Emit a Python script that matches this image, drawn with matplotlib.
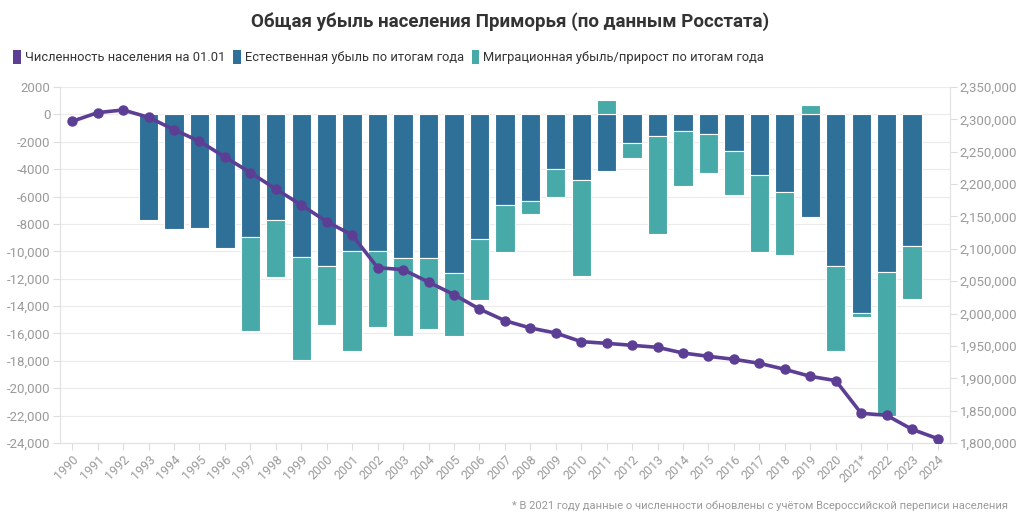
import matplotlib
matplotlib.use("Agg")
import matplotlib.pyplot as plt
from matplotlib.patches import Patch
from matplotlib.ticker import FuncFormatter, FixedLocator
import numpy as np

plt.rcParams['font.family'] = ['Roboto', 'DejaVu Sans']

years = ['1990', '1991', '1992', '1993', '1994', '1995', '1996', '1997', '1998', '1999',
         '2000', '2001', '2002', '2003', '2004', '2005', '2006', '2007', '2008', '2009',
         '2010', '2011', '2012', '2013', '2014', '2015', '2016', '2017', '2018', '2019',
         '2020', '2021*', '2022', '2023', '2024']

population = [2297000, 2310400, 2314500, 2303200, 2284100, 2266100, 2241900, 2217700,
              2192400, 2167700, 2142000, 2121300, 2070900, 2067800, 2048700, 2029200,
              2007000, 1989000, 1977700, 1969900, 1956600, 1954000, 1950900, 1947800,
              1939000, 1933900, 1929300, 1923100, 1913800, 1903000, 1896400, 1845900,
              1842800, 1821100, 1806800]

natural = [np.nan, np.nan, np.nan, -7750, -8370, -8300, -9760, -8960, -7690, -10420,
           -11070, -10000, -10000, -10470, -10490, -11590, -9080, -6620, -6300, -3970,
           -4800, -4110, -2100, -1560, -1220, -1460, -2680, -4450, -5650, -7500,
           -11050, -14480, -11540, -9610, np.nan]

migration = [np.nan, np.nan, np.nan, np.nan, np.nan, np.nan, np.nan, -6880, -4190, -7490,
             -4290, -7300, -5530, -5740, -5210, -4620, -4500, -3460, -950, -2050,
             -7030, 1070, -1110, -7150, -3990, -2830, -3190, -5600, -4630, 680,
             -6230, -340, -10510, -3870, np.nan]

c_pop = '#5c3f95'
c_nat = '#2f7099'
c_mig = '#48aaa8'
grey = '#9a9a9a'

fig = plt.figure(figsize=(10.2, 5.25), dpi=100)
ax = fig.add_axes([60/1020, 1-443/525, 890/1020, 356/525])
ax2 = ax.twinx()

x = np.arange(len(years))
nat = np.array(natural, dtype=float)
mig = np.array(migration, dtype=float)
nat0 = np.nan_to_num(nat)
mig_bottom = np.where(mig < 0, nat0, 0.0)

w = 0.76
ax.bar(x, nat, width=w, color=c_nat, edgecolor='white', linewidth=0.8, zorder=2)
ax.bar(x, mig, bottom=mig_bottom, width=w, color=c_mig, edgecolor='white', linewidth=0.8, zorder=2)

ax.set_xlim(-0.48, 34.49)
ax.set_ylim(-24000, 2000)
ax.yaxis.set_major_locator(FixedLocator(np.arange(-24000, 2001, 2000)))

def lfmt(v, pos):
    v = int(round(v))
    if abs(v) >= 10000:
        return f"{v:,}"
    return f"{v}"
ax.yaxis.set_major_formatter(FuncFormatter(lfmt))
ax.grid(axis='y', color='#ebebeb', linewidth=0.8, zorder=0)
ax.set_axisbelow(True)

ax.set_xticks(x)
ax.set_xticklabels(years, rotation=45, ha='right', rotation_mode='anchor')
ax.tick_params(axis='x', colors='#dddddd', labelcolor=grey, labelsize=9, length=5, width=0.8, pad=2)
ax.tick_params(axis='y', colors='#dddddd', labelcolor=grey, labelsize=9.5, length=5, width=0.8, pad=2)

ax2.set_ylim(1800000, 2350000)
ax2.yaxis.set_major_locator(FixedLocator(np.arange(1800000, 2350001, 50000)))
ax2.yaxis.set_major_formatter(FuncFormatter(lambda v, p: f"{int(round(v)):,}"))
ax2.tick_params(axis='y', colors='#dddddd', labelcolor=grey, labelsize=9.5, length=5, width=0.8, pad=2)
ax2.plot(x, population, color=c_pop, linewidth=2.6, marker='o', markersize=6.5, zorder=5)

for a in (ax, ax2):
    a.spines['top'].set_visible(False)
    for s in ('left', 'right', 'bottom'):
        a.spines[s].set_color('#e3e3e3')
        a.spines[s].set_linewidth(0.8)

fig.text(0.5, 1-22/525, 'Общая убыль населения Приморья (по данным Росстата)',
         ha='center', va='center', fontsize=13.5, fontweight='bold', color='#333333')

handles = [Patch(facecolor=c_pop), Patch(facecolor=c_nat), Patch(facecolor=c_mig)]
labels = ['Численность населения на 01.01', 'Естественная убыль по итогам года',
          'Миграционная убыль/прирост по итогам года']
fig.legend(handles, labels, loc='center left', bbox_to_anchor=(0.008, 1-57/525), ncol=3,
           frameon=False, fontsize=9.3, handlelength=0.6, handleheight=1.4,
           handletextpad=0.3, columnspacing=0.6, labelcolor='#333333', borderaxespad=0)

fig.text(1008/1020, 1-506/525,
         '* В 2021 году данные о численности обновлены с учётом Всероссийской переписи населения',
         ha='right', va='center', fontsize=8, color=grey)

fig.savefig('out.png', dpi=100)
